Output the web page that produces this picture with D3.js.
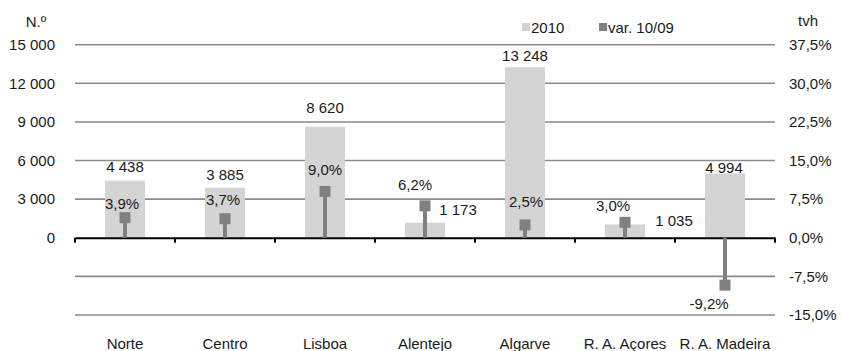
<!DOCTYPE html>
<html>
<head>
<meta charset="utf-8">
<script src="https://cdn.jsdelivr.net/npm/d3@7"></script>
<style>
  html, body { margin: 0; padding: 0; background: #fff; }
  svg { display: block; font-family: "Liberation Sans", Arial, sans-serif; }
</style>
</head>
<body>
<svg id="chart" width="841" height="351"></svg>
<script>
// Regions (NUTS II) and their values
const categories = ["Norte", "Centro", "Lisboa", "Alentejo", "Algarve", "R. A. Açores", "R. A. Madeira"];
const values2010 = [4438, 3885, 8620, 1173, 13248, 1035, 4994];
const varPct = [3.9, 3.7, 9.0, 6.2, 2.5, 3.0, -9.2];
const leftTicks = [0, 3000, 6000, 9000, 12000, 15000];
const rightTicks = [-15, -7.5, 0, 7.5, 15, 22.5, 30, 37.5];
const seriesNames = ["2010", "var. 10/09"];

// Label nudges [dx, dy] from the mark anchor (bar top / marker centre)
const countLabelNudge = [[0, -14], [0, -13], [0, -19], [33, -13], [0, -12], [49, -4], [-1, -6]];
const pctLabelNudge = [[-3, -14], [-2, -19], [0, -22], [-10, -21], [1, -23], [-12, -17], [-16, 19]];

const fmtCount = v => d3.format(",")(v).replace(/,/g, " ");
const fmtPct = v => v.toFixed(1).replace(".", ",") + "%";

const svg = d3.select("#chart");
const plotLeft = 75, plotRight = 775, plotTop = 44.7, plotBottom = 315;

const x = d3.scaleBand().domain(categories).range([plotLeft, plotRight]).paddingInner(0).paddingOuter(0);
const yL = d3.scaleLinear().domain([-6000, 15000]).range([plotBottom, plotTop]);
const yR = d3.scaleLinear().domain([-15, 37.5]).range([plotBottom, plotTop]);

const gridColor = "#8a8a8a";
const barColor = "#d4d4d4";
const markColor = "#808080";
const textColor = "#1a1a1a";
const fs = 15;

// Horizontal gridlines (right axis ticks, zero handled by the axis line)
svg.append("g").selectAll("line")
  .data(rightTicks.filter(t => t !== 0))
  .join("line")
  .attr("x1", plotLeft).attr("x2", plotRight)
  .attr("y1", d => yR(d)).attr("y2", d => yR(d))
  .attr("stroke", gridColor).attr("stroke-width", 1.6);

// Left axis labels
svg.append("g").selectAll("text")
  .data(leftTicks)
  .join("text")
  .attr("x", 55).attr("y", d => yL(d))
  .attr("dy", "0.35em")
  .attr("text-anchor", "end")
  .attr("font-size", fs).attr("fill", textColor)
  .text(d => fmtCount(d));

// Right axis labels
svg.append("g").selectAll("text")
  .data(rightTicks)
  .join("text")
  .attr("x", 789).attr("y", d => yR(d))
  .attr("dy", "0.35em")
  .attr("text-anchor", "start")
  .attr("font-size", fs).attr("fill", textColor)
  .text(d => fmtPct(d));

// Axis titles
svg.append("text").attr("x", 36).attr("y", 27).attr("text-anchor", "middle")
  .attr("font-size", fs).attr("fill", textColor).text("N.º");
svg.append("text").attr("x", 808).attr("y", 26).attr("text-anchor", "middle")
  .attr("font-size", fs).attr("fill", textColor).text("tvh");

// Bars 2010
const barW = 40;
svg.append("g").selectAll("rect")
  .data(categories)
  .join("rect")
  .attr("x", d => x(d) + x.bandwidth() / 2 - barW / 2)
  .attr("width", barW)
  .attr("y", (d, i) => yL(values2010[i]))
  .attr("height", (d, i) => yL(0) - yL(values2010[i]))
  .attr("fill", barColor);

// Category axis at zero
const axisG = svg.append("g").attr("transform", `translate(0,${yL(0)})`);
axisG.call(d3.axisBottom(x).tickSize(0).tickFormat(""));
axisG.select(".domain").attr("stroke", "#000").attr("stroke-width", 2.2);
axisG.selectAll(".tick").remove();
axisG.selectAll("line.bt")
  .data(d3.range(categories.length + 1))
  .join("line").attr("class", "bt")
  .attr("x1", i => plotLeft + i * x.step()).attr("x2", i => plotLeft + i * x.step())
  .attr("y1", 0).attr("y2", 5)
  .attr("stroke", "#000").attr("stroke-width", 2);

// Variation stems and markers
const stemW = 4, markS = 11;
const vg = svg.append("g");
vg.selectAll("rect.stem")
  .data(categories)
  .join("rect").attr("class", "stem")
  .attr("x", d => x(d) + x.bandwidth() / 2 - stemW / 2)
  .attr("width", stemW)
  .attr("y", (d, i) => Math.min(yR(varPct[i]), yR(0)))
  .attr("height", (d, i) => Math.abs(yR(0) - yR(varPct[i])))
  .attr("fill", markColor);
vg.selectAll("rect.mark")
  .data(categories)
  .join("rect").attr("class", "mark")
  .attr("x", d => x(d) + x.bandwidth() / 2 - markS / 2)
  .attr("y", (d, i) => yR(varPct[i]) - markS / 2)
  .attr("width", markS).attr("height", markS)
  .attr("fill", markColor);

// Value labels for 2010
svg.append("g").selectAll("text")
  .data(categories)
  .join("text")
  .attr("x", (d, i) => x(d) + x.bandwidth() / 2 + countLabelNudge[i][0])
  .attr("y", (d, i) => yL(values2010[i]) + countLabelNudge[i][1])
  .attr("dy", "0.35em")
  .attr("text-anchor", "middle")
  .attr("font-size", fs).attr("fill", textColor)
  .text((d, i) => fmtCount(values2010[i]));

// Variation labels
svg.append("g").selectAll("text")
  .data(categories)
  .join("text")
  .attr("x", (d, i) => x(d) + x.bandwidth() / 2 + pctLabelNudge[i][0])
  .attr("y", (d, i) => yR(varPct[i]) + pctLabelNudge[i][1])
  .attr("dy", "0.35em")
  .attr("text-anchor", "middle")
  .attr("font-size", fs).attr("fill", textColor)
  .text((d, i) => fmtPct(varPct[i]));

// Category labels
svg.append("g").selectAll("text")
  .data(categories)
  .join("text")
  .attr("x", d => x(d) + x.bandwidth() / 2)
  .attr("y", 349)
  .attr("text-anchor", "middle")
  .attr("font-size", fs).attr("fill", textColor)
  .text(d => d);

// Legend
const legend = svg.append("g");
const legendItems = [
  { name: seriesNames[0], color: barColor, x: 522 },
  { name: seriesNames[1], color: markColor, x: 599 }
];
legend.selectAll("rect")
  .data(legendItems)
  .join("rect")
  .attr("x", d => d.x).attr("y", 23)
  .attr("width", 8).attr("height", 8)
  .attr("fill", d => d.color);
legend.selectAll("text")
  .data(legendItems)
  .join("text")
  .attr("x", d => d.x + 9).attr("y", 33)
  .attr("font-size", fs).attr("fill", textColor)
  .text(d => d.name);
</script>
</body>
</html>
